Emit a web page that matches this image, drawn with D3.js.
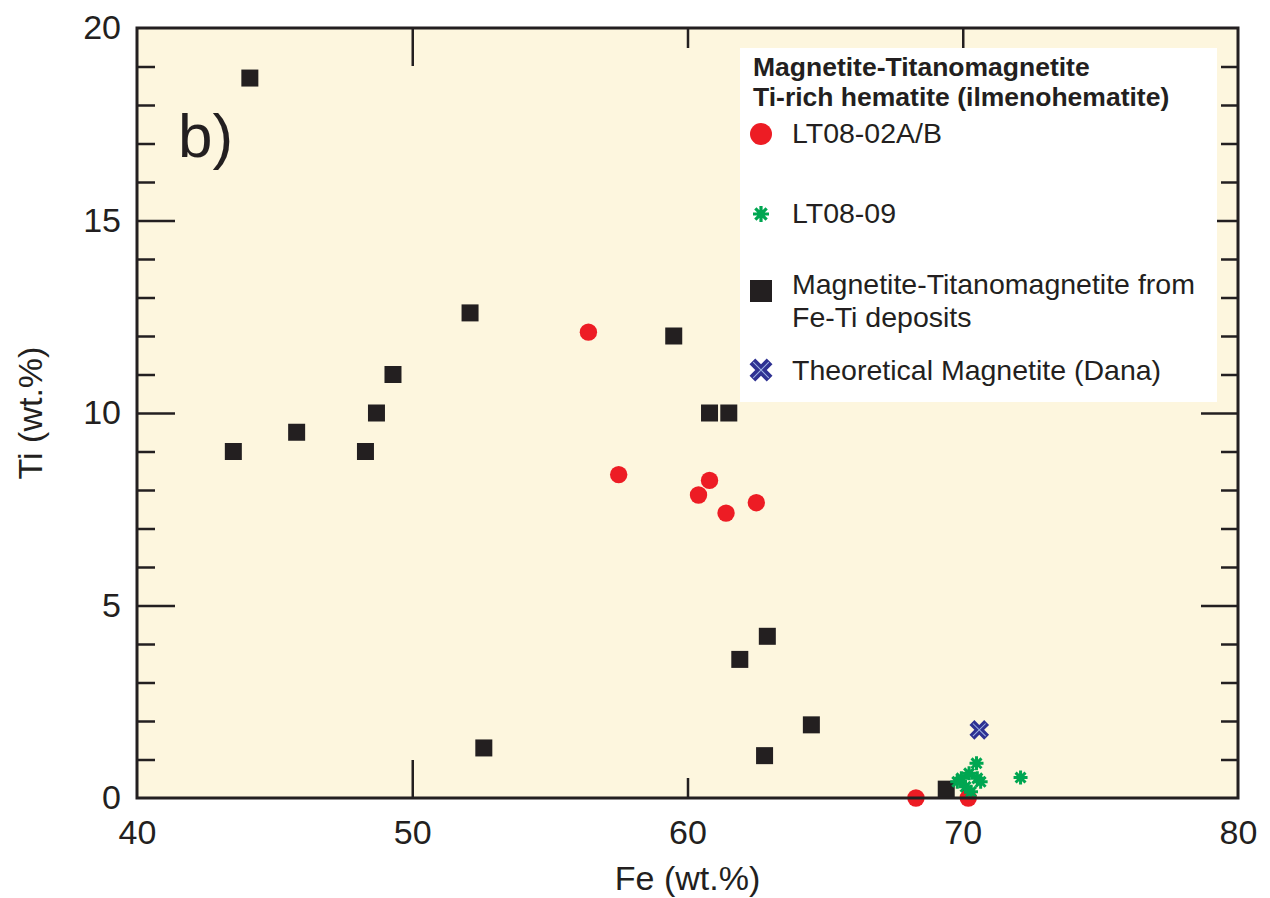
<!DOCTYPE html>
<html lang="en">
<head>
  <meta charset="UTF-8">
  <title>Fe vs Ti</title>
  <style>
    body {
      margin: 0;
      background: #fff;
      font-family: Arial, "Liberation Sans", sans-serif;
    }
    .tick text {
      font-family: Arial, "Liberation Sans", sans-serif;
      font-size: 34px;
      fill: #231f20;
    }
  </style>
</head>
<body>
<script src="https://d3js.org/d3.v7.min.js"></script>
<script>
  // Magnetite-Titanomagnetite from Fe-Ti deposits
  const depositFe = [44.1, 43.5, 45.8, 48.3, 48.7, 49.3, 52.1, 52.6, 59.5, 60.8, 61.5, 61.9, 62.9, 62.8, 64.5, 69.4];
  const depositTi = [18.7, 9.0, 9.5, 9.0, 10.0, 11.0, 12.6, 1.3, 12.0, 10.0, 10.0, 3.6, 4.2, 1.1, 1.9, 0.23];

  // LT08-02A/B
  const lt02Fe = [56.4, 57.5, 60.4, 60.8, 61.4, 62.5, 68.3, 70.2];
  const lt02Ti = [12.1, 8.4, 7.87, 8.25, 7.4, 7.67, 0.0, 0.0];

  // LT08-09
  const lt09Fe = [69.8, 69.95, 70.1, 70.23, 70.3, 70.5, 70.53, 70.65, 72.1];
  const lt09Ti = [0.42, 0.51, 0.29, 0.64, 0.16, 0.9, 0.51, 0.42, 0.53];

  // Theoretical magnetite (Dana)
  const danaFe = [70.6];
  const danaTi = [1.77];

  const xTicks = [40, 50, 60, 70, 80];
  const yTicks = [0, 5, 10, 15, 20];

  const width = 1270;
  const height = 898;
  const margin = {top: 28, right: 32, bottom: 100, left: 137};

  const svg = d3.select('body')
    .append('svg')
    .attr('width', width)
    .attr('height', height);

  const xScale = d3.scaleLinear()
    .domain([40, 80])
    .range([margin.left, width - margin.right]);

  const yScale = d3.scaleLinear()
    .domain([0, 20])
    .range([height - margin.bottom, margin.top]);

  const x0 = xScale(40), x1 = xScale(80), y0 = yScale(0), y1 = yScale(20);

  // plot background
  svg.append('rect')
    .attr('x', x0).attr('y', y1)
    .attr('width', x1 - x0).attr('height', y0 - y1)
    .attr('fill', '#fdf6de');

  // minor y ticks (every 1 wt.%)
  const minorY = d3.range(1, 20).filter(d => d % 5 !== 0);
  const tickStyle = g => g.selectAll('line').attr('stroke', '#231f20').attr('stroke-width', 2.5);

  svg.append('g')
    .attr('transform', 'translate(' + x0 + ',0)')
    .call(d3.axisLeft(yScale).tickValues(minorY).tickSize(-18).tickFormat(''))
    .call(g => g.select('.domain').remove())
    .call(tickStyle);

  svg.append('g')
    .attr('transform', 'translate(' + x1 + ',0)')
    .call(d3.axisRight(yScale).tickValues(minorY).tickSize(-17).tickFormat(''))
    .call(g => g.select('.domain').remove())
    .call(tickStyle);

  // major y ticks with labels
  svg.append('g')
    .attr('transform', 'translate(' + x0 + ',0)')
    .call(d3.axisLeft(yScale).tickValues(yTicks).tickSize(-38).tickPadding(16).tickFormat(d3.format('d')))
    .call(g => g.select('.domain').remove())
    .call(tickStyle)
    .call(g => g.selectAll('.tick line').filter(d => d === 0 || d === 20).remove());

  svg.append('g')
    .attr('transform', 'translate(' + x1 + ',0)')
    .call(d3.axisRight(yScale).tickValues([5, 10, 15]).tickSize(-37).tickFormat(''))
    .call(g => g.select('.domain').remove())
    .call(tickStyle);

  // x ticks, bottom with labels, top without
  const xLen = d => (d === 50 ? 38 : 20);
  const xAxisBottom = svg.append('g')
    .attr('transform', 'translate(0,' + y0 + ')')
    .call(d3.axisBottom(xScale).tickValues(xTicks).tickSize(0).tickPadding(22).tickFormat(d3.format('d')))
    .call(g => g.select('.domain').remove());
  xAxisBottom.selectAll('.tick')
    .filter(d => d > 40 && d < 80)
    .select('line')
    .attr('y2', d => -xLen(d))
    .attr('stroke', '#231f20')
    .attr('stroke-width', 2.5);

  svg.append('g')
    .attr('transform', 'translate(0,' + y1 + ')')
    .call(d3.axisTop(xScale).tickValues([50, 60, 70]).tickSize(0).tickFormat(''))
    .call(g => g.select('.domain').remove())
    .selectAll('.tick line')
    .attr('y2', d => xLen(d))
    .attr('stroke', '#231f20')
    .attr('stroke-width', 2.5);

  // axis titles
  svg.append('text')
    .attr('x', (x0 + x1) / 2)
    .attr('y', 890)
    .attr('text-anchor', 'middle')
    .attr('font-size', 34)
    .attr('fill', '#231f20')
    .text('Fe (wt.%)');

  svg.append('text')
    .attr('transform', 'translate(42,' + ((y0 + y1) / 2) + ') rotate(-90)')
    .attr('text-anchor', 'middle')
    .attr('font-size', 34)
    .attr('fill', '#231f20')
    .text('Ti (wt.%)');

  // panel label
  svg.append('text')
    .attr('x', 178)
    .attr('y', 157)
    .attr('font-size', 62)
    .attr('fill', '#231f20')
    .text('b)');

  // legend
  const lg = svg.append('g');
  lg.append('rect')
    .attr('x', 740).attr('y', 48)
    .attr('width', 477).attr('height', 354)
    .attr('fill', '#ffffff');

  lg.append('text')
    .attr('x', 753).attr('y', 76)
    .attr('font-size', 26.5).attr('font-weight', 'bold').attr('fill', '#231f20')
    .text('Magnetite-Titanomagnetite');
  lg.append('text')
    .attr('x', 753).attr('y', 106)
    .attr('font-size', 26.5).attr('font-weight', 'bold').attr('fill', '#231f20')
    .text('Ti-rich hematite (ilmenohematite)');

  const legText = (y, t) => lg.append('text')
    .attr('x', 792).attr('y', y)
    .attr('font-size', 28.5).attr('fill', '#231f20')
    .text(t);

  // marker helpers
  const asterisk = r => {
    const p = d3.path();
    for (let i = 0; i < 4; i++) {
      const a = i * Math.PI / 4;
      p.moveTo(-r * Math.cos(a), -r * Math.sin(a));
      p.lineTo(r * Math.cos(a), r * Math.sin(a));
    }
    return p.toString();
  };

  lg.append('circle').attr('cx', 761).attr('cy', 134).attr('r', 11).attr('fill', '#ed1c24');
  legText(143, 'LT08-02A/B');

  lg.append('path').attr('transform', 'translate(761,214)').attr('d', asterisk(8))
    .attr('stroke', '#00a651').attr('stroke-width', 3.2);
  legText(223, 'LT08-09');

  lg.append('rect').attr('x', 750).attr('y', 280).attr('width', 22).attr('height', 22).attr('fill', '#231f20');
  legText(294, 'Magnetite-Titanomagnetite from');
  legText(327, 'Fe-Ti deposits');

  lg.append('path').attr('transform', 'translate(761,370) rotate(45)')
    .attr('d', d3.symbol().type(d3.symbolCross).size(330)())
    .attr('fill', '#2e3192');
  lg.append('path').attr('transform', 'translate(761,370) rotate(45)')
    .attr('d', 'M-11,0L11,0M0,-11L0,11').attr('stroke', '#9fb4e6').attr('stroke-width', 1);
  legText(380, 'Theoretical Magnetite (Dana)');

  // data points
  const plot = svg.append('g');

  plot.selectAll('rect.dep')
    .data(d3.zip(depositFe, depositTi))
    .enter()
    .append('rect')
    .attr('class', 'dep')
    .attr('x', d => xScale(d[0]) - 8.5)
    .attr('y', d => yScale(d[1]) - 8.5)
    .attr('width', 17)
    .attr('height', 17)
    .attr('fill', '#231f20');

  plot.selectAll('circle.lt02')
    .data(d3.zip(lt02Fe, lt02Ti))
    .enter()
    .append('circle')
    .attr('class', 'lt02')
    .attr('cx', d => xScale(d[0]))
    .attr('cy', d => yScale(d[1]))
    .attr('r', 8.7)
    .attr('fill', '#ed1c24');

  plot.selectAll('path.lt09')
    .data(d3.zip(lt09Fe, lt09Ti))
    .enter()
    .append('path')
    .attr('class', 'lt09')
    .attr('transform', d => 'translate(' + xScale(d[0]) + ',' + yScale(d[1]) + ')')
    .attr('d', asterisk(7))
    .attr('stroke', '#00a651')
    .attr('stroke-width', 3);

  plot.selectAll('g.dana')
    .data(d3.zip(danaFe, danaTi))
    .enter()
    .append('g')
    .attr('class', 'dana')
    .attr('transform', d => 'translate(' + xScale(d[0]) + ',' + yScale(d[1]) + ') rotate(45)')
    .call(g => g.append('path')
      .attr('d', d3.symbol().type(d3.symbolCross).size(240)())
      .attr('fill', '#2e3192'))
    .call(g => g.append('path')
      .attr('d', 'M-9,0L9,0M0,-9L0,9')
      .attr('stroke', '#9fb4e6')
      .attr('stroke-width', 1));

  // frame on top
  svg.append('rect')
    .attr('x', x0).attr('y', y1)
    .attr('width', x1 - x0).attr('height', y0 - y1)
    .attr('fill', 'none')
    .attr('stroke', '#231f20')
    .attr('stroke-width', 3);
</script>
</body>
</html>
